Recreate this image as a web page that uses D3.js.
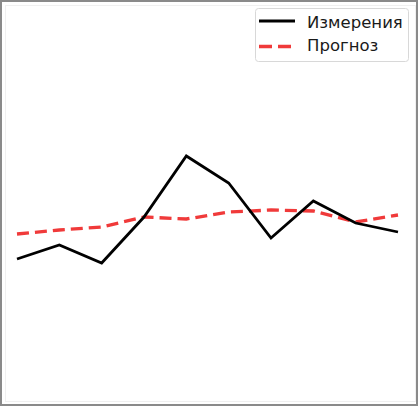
<!DOCTYPE html>
<html><head><meta charset="utf-8">
<script src="https://cdn.jsdelivr.net/npm/d3@7"></script>
<style>body{margin:0;background:#fff}svg{display:block}</style>
</head><body>
<svg id="c" width="418" height="406"></svg>
<script>
const steps = [0,1,2,3,4,5,6,7,8,9];
const measured = [1.1, 2.5, 0.7, 5.3, 11.4, 8.7, 3.2, 6.9, 4.7, 3.8];
const forecast = [3.6, 4.0, 4.3, 5.3, 5.1, 5.8, 6.0, 5.9, 4.8, 5.5];
const seriesNames = ["Измерения", "Прогноз"];

const svg = d3.select("#c");
const W = 418, H = 406;
const x = d3.scaleLinear().domain([0, 9]).range([17, 398]);
const y = d3.scaleLinear().domain([-13.5, 27]).range([405, 0]);

svg.append("rect").attr("x",0).attr("y",0).attr("width",W).attr("height",H).attr("fill","#fff");
svg.append("rect").attr("x",5.5).attr("y",5.5).attr("width",410).attr("height",396)
  .attr("fill","none").attr("stroke","#f0f0f0").attr("stroke-width",1);

const line = d3.line().x((d,i)=>x(steps[i])).y(d=>y(d));

svg.append("path").datum(forecast).attr("d", line)
  .attr("fill","none").attr("stroke","#f03a3a").attr("stroke-width",3.3)
  .attr("stroke-dasharray","12,6");
svg.append("path").datum(measured).attr("d", line)
  .attr("fill","none").attr("stroke","#000").attr("stroke-width",2.8)
  .attr("stroke-linejoin","miter");

// legend
const lg = svg.append("g");
lg.append("rect").attr("x",255.5).attr("y",8.5).attr("width",153).attr("height",53).attr("rx",3)
  .attr("fill","#fff").attr("fill-opacity",0.85).attr("stroke","#d8d8d8").attr("stroke-width",1);
const items = [
  {name: seriesNames[0], color:"#000", dash:null, w:2.8, ly:21, ty:27.5},
  {name: seriesNames[1], color:"#f03a3a", dash:"13,6", w:3.3, ly:46.5, ty:51}
];
items.forEach(it=>{
  lg.append("line").attr("x1",259).attr("x2",295).attr("y1",it.ly).attr("y2",it.ly)
    .attr("stroke",it.color).attr("stroke-width",it.w).attr("stroke-dasharray",it.dash);
  lg.append("text").attr("x",307).attr("y",it.ty).text(it.name)
    .attr("font-family","DejaVu Sans").attr("font-size",16.5).attr("fill","#1a1a1a");
});

svg.append("rect").attr("x",1).attr("y",1).attr("width",W-2).attr("height",H-2)
  .attr("fill","none").attr("stroke","#8a8a8a").attr("stroke-width",2);
</script>
</body></html>
